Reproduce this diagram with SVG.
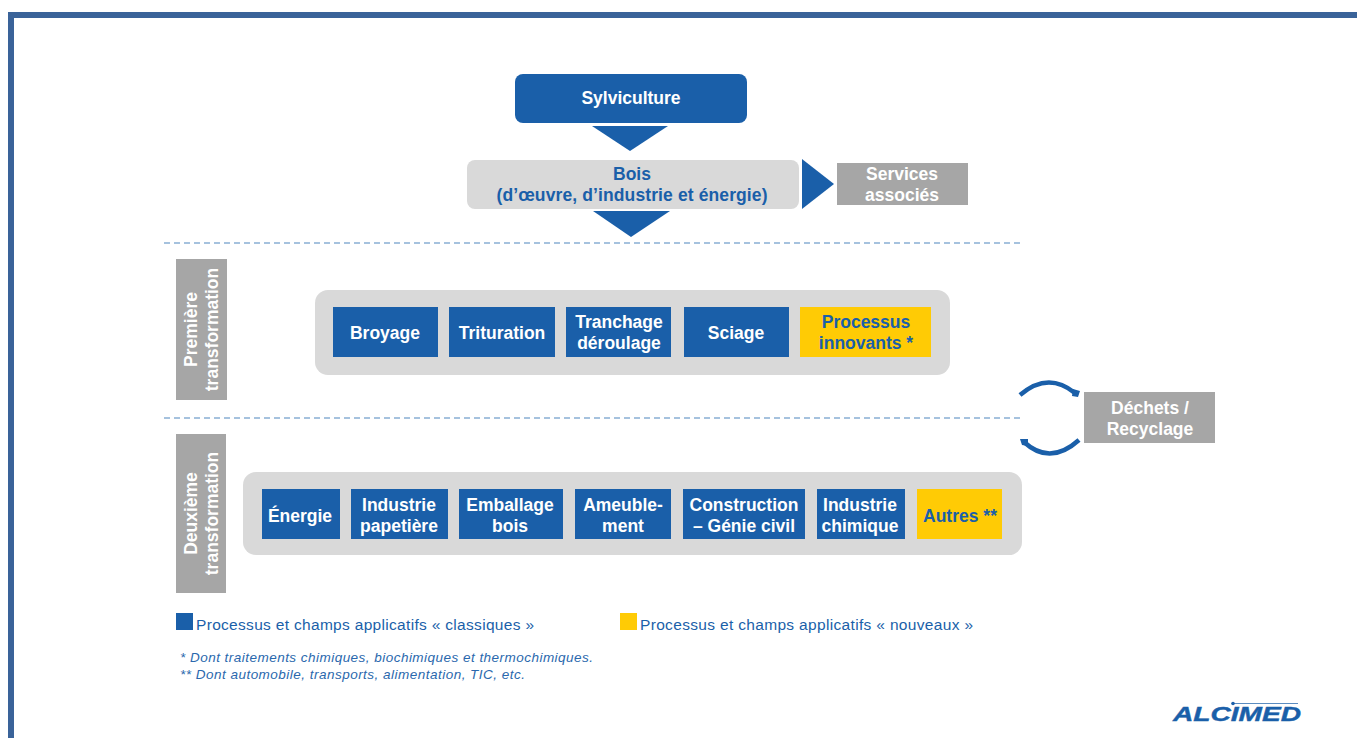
<svg xmlns="http://www.w3.org/2000/svg" width="1357" height="738" viewBox="0 0 1357 738">
<style>
text{font-family:"Liberation Sans",Arial,sans-serif;text-anchor:middle}
.b{font-size:17.5px;font-weight:700}
.w{fill:#fff}
.u{fill:#1a5fa9}
.bl{fill:#1a5fa9}
.y{fill:#ffcb05}
.g{fill:#a6a6a6}
.p{fill:#d9d9d9}
.d{stroke:#4f85bd;stroke-width:1.2;stroke-dasharray:6 4;fill:none}
.c{stroke:#1a5fa9;stroke-width:4.500;fill:none}
.l{font-size:15.500px;text-anchor:start;fill:#1a5fa9}
.n{font-size:13.500px;font-style:italic;text-anchor:start;fill:#2a68ad}
</style>
<rect width="1357" height="738" fill="#fff"/>
<g id="frame"><rect x="8" y="12" width="1349" height="6" fill="#3a6399"/><rect x="8" y="12" width="6" height="726" fill="#3a6399"/></g>
<g id="connectors">
<polygon class="bl" points="592,126 668,126 630,151"/>
<polygon class="bl" points="802,159 834,184 802,209"/>
<polygon class="bl" points="593,211 670,211 631,237"/>
<line class="d" x1="164" y1="243" x2="1024" y2="243"/>
<line class="d" x1="164" y1="418" x2="1024" y2="418"/>
<path class="c" d="M1020,395 Q1048,371 1075,393"/>
<polygon class="bl" points="1073,389 1080,391 1078,397 1072,396"/>
<path class="c" d="M1079,440 Q1050,466 1024,442"/>
<polygon class="bl" points="1020,439 1028,439 1028,446 1022,445"/>
</g>
<g id="sylviculture"><rect class="bl" x="515" y="74" width="232" height="49" rx="8"/><text class="b w" x="631" y="104">Sylviculture</text></g>
<g id="bois"><rect class="p" x="467" y="160" width="332" height="49" rx="8"/><text class="b u" x="632" y="180">Bois</text><text class="b u" x="632" y="201" textLength="271" lengthAdjust="spacing">(d’œuvre, d’industrie et énergie)</text></g>
<g id="services"><rect class="g" x="837" y="163" width="131" height="42"/><text class="b w" x="902" y="180">Services</text><text class="b w" x="902" y="201">associés</text></g>
<g id="premiere"><rect class="g" x="176" y="259" width="51" height="141"/><text class="b w" transform="translate(197,329.500) rotate(-90)">Première</text><text class="b w" transform="translate(218,329.500) rotate(-90)">transformation</text></g>
<g id="panel1"><rect class="p" x="315" y="290" width="635" height="85" rx="13"/></g>
<g id="broyage"><rect class="bl" x="333" y="307" width="105" height="50"/><text class="b w" x="385" y="339">Broyage</text></g>
<g id="trituration"><rect class="bl" x="449" y="307" width="106" height="50"/><text class="b w" x="502" y="339">Trituration</text></g>
<g id="tranchage"><rect class="bl" x="566" y="307" width="105" height="50"/><text class="b w" x="619" y="328">Tranchage</text><text class="b w" x="619" y="349">déroulage</text></g>
<g id="sciage"><rect class="bl" x="684" y="307" width="105" height="50"/><text class="b w" x="736" y="339">Sciage</text></g>
<g id="processus"><rect class="y" x="800" y="307" width="131" height="50"/><text class="b u" x="866" y="328">Processus</text><text class="b u" x="866" y="349">innovants *</text></g>
<g id="dechets"><rect class="g" x="1084" y="392" width="131" height="51"/><text class="b w" x="1150" y="414">Déchets /</text><text class="b w" x="1150" y="435">Recyclage</text></g>
<g id="deuxieme"><rect class="g" x="176" y="434" width="50" height="159"/><text class="b w" transform="translate(197,513.500) rotate(-90)">Deuxième</text><text class="b w" transform="translate(218,513.500) rotate(-90)">transformation</text></g>
<g id="panel2"><rect class="p" x="243" y="472" width="779" height="83" rx="13"/></g>
<g id="energie"><rect class="bl" x="262" y="489" width="78" height="50"/><text class="b w" x="300" y="522">Énergie</text></g>
<g id="papeterie"><rect class="bl" x="351" y="489" width="97" height="50"/><text class="b w" x="399" y="511">Industrie</text><text class="b w" x="399" y="532">papetière</text></g>
<g id="emballage"><rect class="bl" x="459" y="489" width="104" height="50"/><text class="b w" x="510" y="511">Emballage</text><text class="b w" x="510" y="532">bois</text></g>
<g id="ameublement"><rect class="bl" x="575" y="489" width="96" height="50"/><text class="b w" x="623" y="511">Ameuble-</text><text class="b w" x="623" y="532">ment</text></g>
<g id="construction"><rect class="bl" x="683" y="489" width="122" height="50"/><text class="b w" x="744" y="511">Construction</text><text class="b w" x="744" y="532">– Génie civil</text></g>
<g id="chimique"><rect class="bl" x="817" y="489" width="88" height="50"/><text class="b w" x="860" y="511">Industrie</text><text class="b w" x="860" y="532">chimique</text></g>
<g id="autres"><rect class="y" x="917" y="489" width="85" height="50"/><text class="b u" x="960" y="522">Autres **</text></g>
<g id="legend">
<rect class="bl" x="176" y="613" width="17" height="17"/><text class="l" x="196" y="630" textLength="338" lengthAdjust="spacing">Processus et champs applicatifs « classiques »</text>
<rect class="y" x="620" y="613" width="17" height="17"/><text class="l" x="640" y="630" textLength="333" lengthAdjust="spacing">Processus et champs applicatifs « nouveaux »</text>
<text class="n" x="180" y="662" textLength="413" lengthAdjust="spacing">* Dont traitements chimiques, biochimiques et thermochimiques.</text>
<text class="n" x="180" y="679" textLength="345" lengthAdjust="spacing">** Dont automobile, transports, alimentation, TIC, etc.</text>
</g>
<g id="logo"><text x="1237" y="721" style="font-size:20px;font-weight:700;font-style:italic;fill:#1a5fa9;stroke:#1a5fa9;stroke-width:.4" textLength="128" lengthAdjust="spacingAndGlyphs">ALCIMED</text><line x1="1232" y1="703.500" x2="1298" y2="703.500" stroke="#5b8cc0" stroke-width="1"/><circle cx="1233" cy="703.500" r="1.800" fill="#1a5fa9"/></g>
</svg>
